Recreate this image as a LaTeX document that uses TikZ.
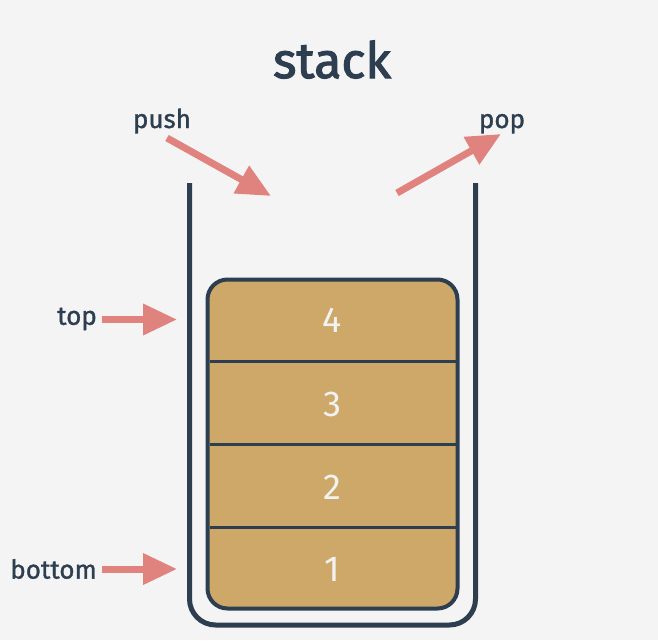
\documentclass[tikz,border=0pt]{standalone}
\usepackage{fontspec}
\setmainfont{Fira Sans}
\newfontfamily\medfont[FakeBold=1.2]{Fira Sans}
\newfontfamily\titlefont[FakeBold=2.2]{Fira Sans}
\usetikzlibrary{arrows.meta}
\definecolor{bgc}{HTML}{F4F4F4}
\definecolor{navy}{HTML}{2C3E50}
\definecolor{sand}{HTML}{CDA869}
\definecolor{salmon}{HTML}{E0837F}
\definecolor{digit}{HTML}{F2F2F2}
\tikzset{
  lbl/.style={text=navy, font=\medfont\fontsize{26}{30}\selectfont, inner sep=0pt},
  num/.style={text=digit, font=\fontsize{36}{40}\selectfont, inner sep=0pt},
  parrow/.style={draw=salmon, line width=7pt, -{Triangle[length=34pt,width=30pt]}},
  wall/.style={draw=navy, line width=5pt},
}
\begin{document}
\begin{tikzpicture}[x=1pt,y=-1pt]
\fill[bgc] (0,0) rectangle (658,640);
\useasboundingbox (0,0) rectangle (658,640);
% title
\node[lbl, anchor=base, font=\titlefont\fontsize{50}{56}\selectfont] (title) at (332,78) {stack};
% container
\draw[wall, rounded corners=26pt] (189.5,183) -- (189.5,625) -- (475.5,625) -- (475.5,183);
% inner stack box
\draw[navy, line width=4pt, fill=sand, rounded corners=20pt] (207.5,279.5) rectangle (457.5,608.5);
\draw[navy, line width=3pt] (209.5,361.5) -- (455.5,361.5);
\draw[navy, line width=3pt] (209.5,444.5) -- (455.5,444.5);
\draw[navy, line width=3pt] (209.5,527.5) -- (455.5,527.5);
\node[num] (n4) at (332.5,320.5) {4};
\node[num] (n3) at (332.5,404.5) {3};
\node[num] (n2) at (332.5,487) {2};
\node[num] (n1) at (332.5,569) {1};
% labels
\node[lbl, anchor=base] (push) at (162,128) {push};
\node[lbl, anchor=base] (pop) at (502,128) {pop};
\node[lbl, anchor=east] (top) at (97,319) {top};
\node[lbl, anchor=east] (bottom) at (97,569) {bottom};
% arrow end points
\coordinate (pushs) at (167,138);
\coordinate (pushe) at (271,196);
\coordinate (pops) at (397,193);
\coordinate (pope) at (501,134);
\coordinate (tops) at (102,319.5);
\coordinate (tope) at (177,319.5);
\coordinate (bots) at (102,569);
\coordinate (bote) at (177,569);
\draw[parrow] (pushs) -- (pushe);
\draw[parrow] (pops) -- (pope);
\draw[parrow] (tops) -- (tope);
\draw[parrow] (bots) -- (bote);
\end{tikzpicture}
\end{document}
